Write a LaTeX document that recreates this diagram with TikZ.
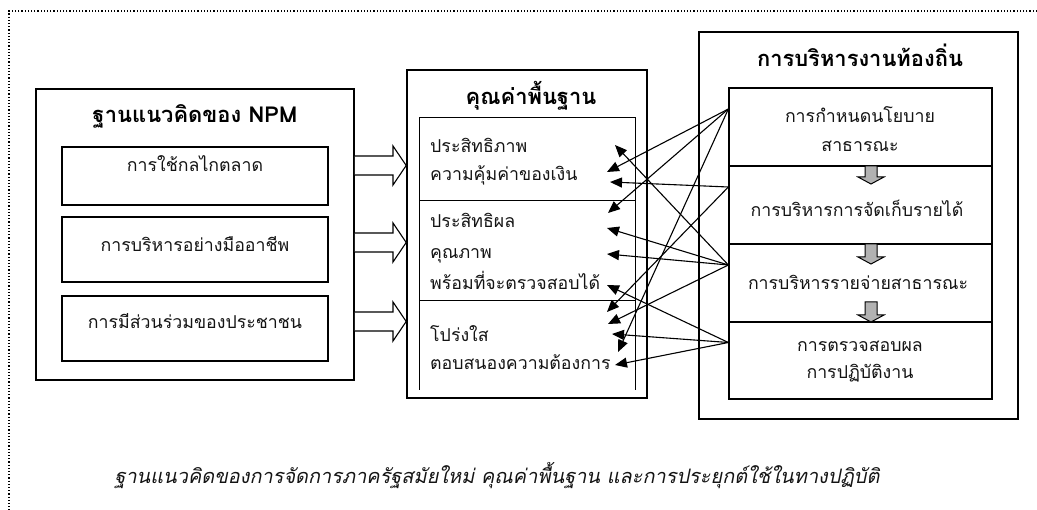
\documentclass[tikz,border=0pt]{standalone}
\usepackage{fontspec}
\usetikzlibrary{arrows.meta,calc}
\newfontfamily\thai[Script=Thai]{Loma}
\newfontfamily\thaislant[Script=Thai,FakeSlant=0.2]{Loma}
\newlength\probewd
% font size (pt) at which #3 set in font #2 is #4 pt wide, stored in #1
\newcommand\sizefor[4]{%
  \setbox0=\hbox{#2\fontsize{10}{12}\selectfont #3}%
  \probewd=\wd0
  \pgfmathsetmacro#1{10*#4/\probewd}}
\sizefor\bodysize{\thai}{การบริหารรายจ่ายสาธารณะ}{220}
\sizefor\titlesize{\thai\bfseries}{การบริหารงานท้องถิ่น}{206}
\sizefor\capsize{\thaislant}{ฐานแนวคิดของการจัดการภาครัฐสมัยใหม่ คุณค่าพื้นฐาน และการประยุกต์ใช้ในทางปฏิบัติ}{765}
\begin{document}
\begin{tikzpicture}[x=1pt,y=-1pt,
  outerbox/.style={draw, line width=1.6pt, inner sep=0, fill=white},
  innerbox/.style={draw, line width=1.3pt, inner sep=0},
  txt/.style={font=\thai\fontsize{\bodysize}{\bodysize}\selectfont, inner sep=0, anchor=base, text=black!92},
  lefttxt/.style={txt, anchor=base west},
  ttl/.style={font=\thai\bfseries\fontsize{\titlesize}{\titlesize}\selectfont, inner sep=0, anchor=base},
  captxt/.style={font=\thaislant\fontsize{\capsize}{\capsize}\selectfont, inner sep=0, anchor=base, text=black!92},
  conn/.style={line width=1.1pt, -{Triangle[length=12pt,width=10pt]}},
  hollow/.style={draw, line width=1.1pt, fill=white, line join=miter},
  greyarrow/.style={draw, line width=1pt, fill=black!30, line join=miter}]
\useasboundingbox (0,0) rectangle (1037,510);

% dotted page frame (top and left edges)
\draw[dotted, line width=1.2pt] (1037,11) -- (9,11) -- (9,510);

% ---- left block: NPM concepts
\node[outerbox, minimum width=318, minimum height=291] (npm) at (195,234.5) {};
\node[ttl] (npmT) at (195,123) {ฐานแนวคิดของ NPM};
\node[innerbox, minimum width=266, minimum height=58] (mkt) at (195,176) {};
\node[innerbox, minimum width=266, minimum height=65] (pro) at (195,249.5) {};
\node[innerbox, minimum width=266, minimum height=65] (par) at (195,328.5) {};
\node[txt] (mktT) at (195,172) {การใช้กลไกตลาด};
\node[txt] (proT) at (195,252) {การบริหารอย่างมืออาชีพ};
\node[txt] (parT) at (195,329) {การมีส่วนร่วมของประชาชน};

% ---- middle block: core values
\node[outerbox, minimum width=240, minimum height=328] (val) at (527,234) {};
\node[ttl] (valT) at (531,105) {คุณค่าพื้นฐาน};
\draw[line width=1pt] (419,390) -- (419,118) -- (635,118) -- (635,390);
\draw[line width=1pt] (419,201) -- (635,201) (419,301) -- (635,301);
\node[lefttxt] (v1) at (430,153) {ประสิทธิภาพ};
\node[lefttxt] (v2) at (430,181) {ความคุ้มค่าของเงิน};
\node[lefttxt] (v3) at (430,228) {ประสิทธิผล};
\node[lefttxt] (v4) at (430,259) {คุณภาพ};
\node[lefttxt] (v5) at (430,290) {พร้อมที่จะตรวจสอบได้};
\node[lefttxt] (v6) at (430,342) {โปร่งใส};
\node[lefttxt] (v7) at (430,370) {ตอบสนองความต้องการ};

% ---- hollow arrows from the NPM concepts to the values
\foreach \yc in {165.5,242.5,321.5} {
  \draw[hollow] (npm.east |- 0,\yc-9.5) -- (393,\yc-9.5) -- (393,\yc-19.5)
     -- (val.west |- 0,\yc) -- (393,\yc+19.5) -- (393,\yc+9.5) -- (npm.east |- 0,\yc+9.5);
}

% ---- right block: local administration
\node[outerbox, minimum width=319, minimum height=387] (loc) at (858.5,225.5) {};
\node[ttl] (locT) at (860,67) {การบริหารงานท้องถิ่น};
\node[innerbox, minimum width=263, minimum height=78] (pol) at (860.5,127) {};
\node[innerbox, minimum width=263, minimum height=78] (rev) at (860.5,205) {};
\node[innerbox, minimum width=263, minimum height=78] (exp) at (860.5,283) {};
\node[innerbox, minimum width=263, minimum height=77] (aud) at (860.5,360.5) {};
\node[txt] (polT1) at (860,123) {การกำหนดนโยบาย};
\node[txt] (polT2) at (860,152) {สาธารณะ};
\node[txt] (revT) at (857,217) {การบริหารการจัดเก็บรายได้};
\node[txt] (expT) at (858,290) {การบริหารรายจ่ายสาธารณะ};
\node[txt] (audT1) at (860,352) {การตรวจสอบผล};
\node[txt] (audT2) at (860,379) {การปฏิบัติงาน};

% grey step arrows between the stages
\foreach \yt/\yb in {166/184, 244/264, 302/322} {
  \draw[greyarrow] (865,\yt) -- (877,\yt) -- (877,\yb-7) -- (884,\yb-7)
     -- (871,\yb) -- (858,\yb-7) -- (865,\yb-7) -- cycle;
}

% ---- links from each stage to the values
\coordinate (s1) at ([yshift=18pt]pol.west);
\coordinate (s2) at ([yshift=18pt]rev.west);
\coordinate (s3) at ([yshift=18pt]exp.west);
\coordinate (s4) at ([yshift=18pt]aud.west);
\coordinate (t1) at (615,145);
\coordinate (t2) at (607,172);
\coordinate (t3) at (610,182);
\coordinate (t4) at (608,213);
\coordinate (t5) at (607,228);
\coordinate (t6) at (607,254);
\coordinate (t7) at (607,285);
\coordinate (t8) at (607,312);
\coordinate (t9) at (608,324);
\coordinate (t10) at (612,334);
\coordinate (t11) at (618,352);
\coordinate (t12) at (615,365);
\draw[conn] (s3) -- (t1);
\draw[conn] (s1) -- (t2);
\draw[conn] (s2) -- (t3);
\draw[conn] (s1) -- (t4);
\draw[conn] (s3) -- (t5);
\draw[conn] (s3) -- (t6);
\draw[conn] (s4) -- (t7);
\draw[conn] (s2) -- (t8);
\draw[conn] (s3) -- (t9);
\draw[conn] (s4) -- (t10);
\draw[conn] (s1) -- (t11);
\draw[conn] (s4) -- (t12);

% ---- caption
\node[captxt] (cap) at (497,484)
  {ฐานแนวคิดของการจัดการภาครัฐสมัยใหม่ คุณค่าพื้นฐาน และการประยุกต์ใช้ในทางปฏิบัติ};
\end{tikzpicture}
\end{document}
